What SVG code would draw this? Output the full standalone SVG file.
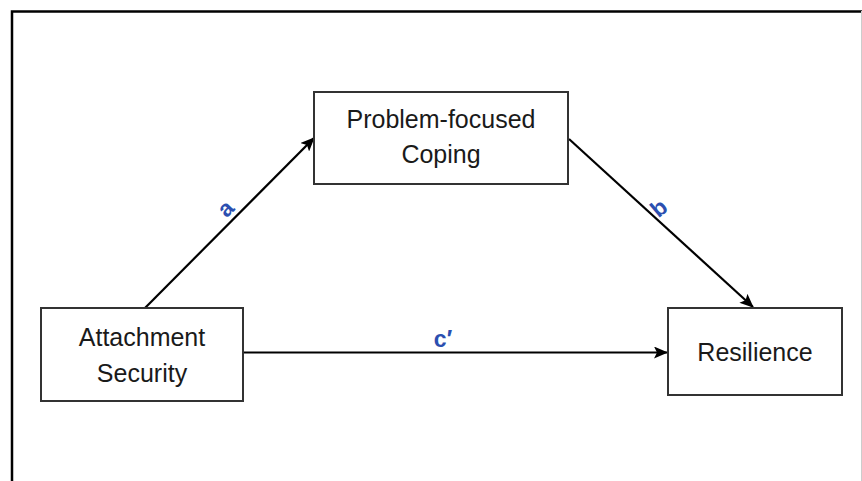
<svg xmlns="http://www.w3.org/2000/svg" width="862" height="481" viewBox="0 0 862 481">
<style>
.box{fill:#fff;stroke:#333;stroke-width:2}
.t{font-family:"Liberation Sans",Arial,Helvetica,sans-serif;font-size:25px;fill:#1a1a1a;text-anchor:middle}
.lab{font-family:"Liberation Sans",Arial,Helvetica,sans-serif;font-size:23px;font-weight:bold;fill:#2b4fb0;text-anchor:middle}
.ln{stroke:#000;stroke-width:2.2;fill:none;marker-end:url(#ah)}
</style>
<defs>
<marker id="ah" markerUnits="userSpaceOnUse" markerWidth="14" markerHeight="12" viewBox="0 0 14 12" refX="13" refY="6" orient="auto">
<path d="M0,0 L14,6 L0,12 L3,6 Z" fill="#000"/>
</marker>
</defs>
<rect width="862" height="481" fill="#fff"/>
<g id="frame">
<path d="M12,481 V11.5 H862" fill="none" stroke="#000" stroke-width="2.5"/>
<line x1="861.5" y1="11" x2="861.5" y2="481" stroke="#ccc" stroke-width="1"/>
</g>
<g id="connectors">
<line class="ln" x1="145" y1="308" x2="314" y2="138"/>
<line class="ln" x1="569" y1="139" x2="753" y2="307"/>
<line class="ln" x1="243" y1="352.5" x2="667" y2="352.5"/>
<text class="lab" transform="translate(231,214) rotate(-45)">a</text>
<text class="lab" transform="translate(664,214) rotate(-40)">b</text>
<text class="lab" x="443" y="347">c′</text>
</g>
<g id="coping">
<rect class="box" x="314" y="92" width="254" height="92"/>
<text class="t" x="441" y="128">Problem-focused</text>
<text class="t" x="441" y="163">Coping</text>
</g>
<g id="attachment">
<rect class="box" x="41" y="308" width="202" height="93"/>
<text class="t" x="142" y="345.5">Attachment</text>
<text class="t" x="142" y="381.5">Security</text>
</g>
<g id="resilience">
<rect class="box" x="668" y="308" width="174" height="87"/>
<text class="t" x="755" y="361">Resilience</text>
</g>
</svg>
